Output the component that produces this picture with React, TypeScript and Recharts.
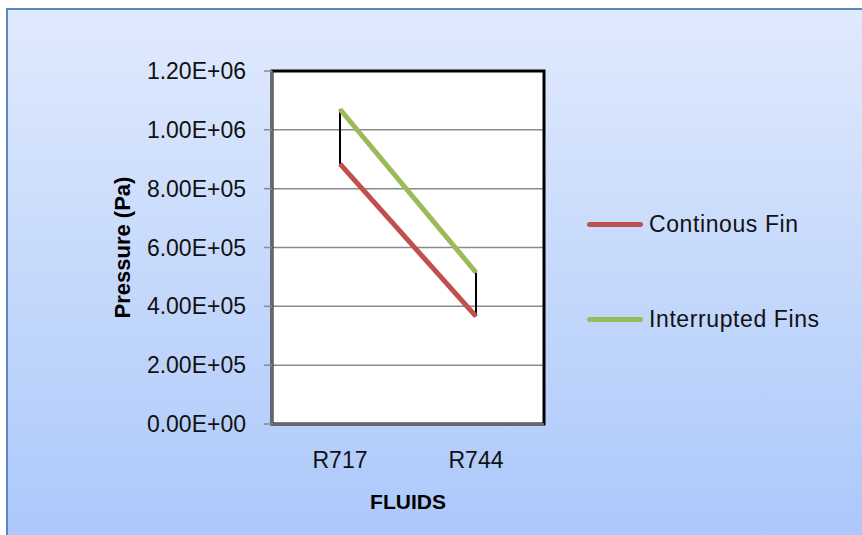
import React from 'react'
import {
  ComposedChart, Line, Bar, XAxis, YAxis, CartesianGrid, ReferenceArea, Legend, Label,
} from 'recharts'

const fluids = ['R717', 'R744']
const continuousFin = [884000, 366000]
const interruptedFins = [1070000, 515000]
const yTicks = [0, 200000, 400000, 600000, 800000, 1000000, 1200000]

const data = fluids.map((f, i) => ({
  fluid: f,
  cont: continuousFin[i],
  intr: interruptedFins[i],
  range: [continuousFin[i], interruptedFins[i]],
}))

const FONT = '"Liberation Sans", Arial, sans-serif'

function sci(v: number) {
  const [m, e] = v.toExponential(2).split('e')
  const sign = e.startsWith('-') ? '-' : '+'
  const exp = e.replace(/[+-]/, '').padStart(2, '0')
  return `${m}E${sign}${exp}`
}

const legendItems = [
  { name: 'Continous Fin', color: '#c0504d' },
  { name: 'Interrupted Fins', color: '#9bbb59' },
]

function LegendBox() {
  return (
    <div style={{ fontFamily: FONT, fontSize: 23, color: '#111', letterSpacing: 0.6 }}>
      {legendItems.map((it, i) => (
        <div key={it.name} style={{ display: 'flex', alignItems: 'center', height: 30, marginBottom: i === 0 ? 65 : 0 }}>
          <div style={{ width: 56, height: 5, borderRadius: 3, background: it.color, marginRight: 6 }} />
          <span>{it.name}</span>
        </div>
      ))}
    </div>
  )
}

export default function App() {
  return (
    <div style={{ position: 'fixed', left: 0, top: 0, width: 862, height: 535, overflow: 'hidden', background: '#fff' }}>
      <div
        style={{
          position: 'absolute', left: 6, top: 8, width: 880, height: 560,
          background: 'linear-gradient(#e0eafd, #a9c6fa)',
          border: '2px solid #5b86c4', boxSizing: 'border-box',
        }}
      />
      <div style={{ position: 'absolute', left: 0, top: 0 }}>
        <ComposedChart width={862} height={535} data={data} margin={{ top: 71, right: 318, bottom: 71, left: 0 }}>
          <CartesianGrid vertical={false} stroke="#8a8a8a" strokeWidth={1.5} fill="#fff" />
          <XAxis
            dataKey="fluid"
            height={40}
            tickLine={false}
            axisLine={{ stroke: '#8a8a8a', strokeWidth: 1.5 }}
            tick={{ fill: '#111', fontSize: 23, fontFamily: FONT, dy: 20 }}
          >
            <Label
              value="FLUIDS"
              position="insideBottom"
              offset={-45}
              style={{ fontFamily: FONT, fontSize: 21, fontWeight: 'bold', fill: '#000' }}
            />
          </XAxis>
          <YAxis
            width={272}
            domain={[0, 1200000]}
            ticks={yTicks}
            interval={0}
            tickFormatter={sci}
            tickSize={8}
            tickLine={{ stroke: '#8a8a8a', strokeWidth: 1.5 }}
            axisLine={{ stroke: '#8a8a8a', strokeWidth: 1.5 }}
            tick={{ fill: '#111', fontSize: 23, fontFamily: FONT, dx: -16 }}
          >
            <Label
              value="Pressure (Pa)"
              angle={-90}
              position="insideLeft"
              offset={122}
              style={{ fontFamily: FONT, fontSize: 22, fontWeight: 'bold', fill: '#000', textAnchor: 'middle' }}
            />
          </YAxis>
          <ReferenceArea y1={0} y2={1200000} fill="none" stroke="#000" strokeWidth={3} ifOverflow="visible" />
          <Bar dataKey="range" fill="#000" barSize={2} isAnimationActive={false} legendType="none" />
          <Line dataKey="cont" name="Continous Fin" stroke="#c0504d" strokeWidth={5} dot={false} isAnimationActive={false} />
          <Line dataKey="intr" name="Interrupted Fins" stroke="#9bbb59" strokeWidth={5} dot={false} isAnimationActive={false} />
          <Legend
            layout="horizontal"
            verticalAlign="middle"
            align="center"
            wrapperStyle={{ left: 587, top: 209, width: 270 }}
            content={() => <LegendBox />}
          />
        </ComposedChart>
      </div>
    </div>
  )
}
